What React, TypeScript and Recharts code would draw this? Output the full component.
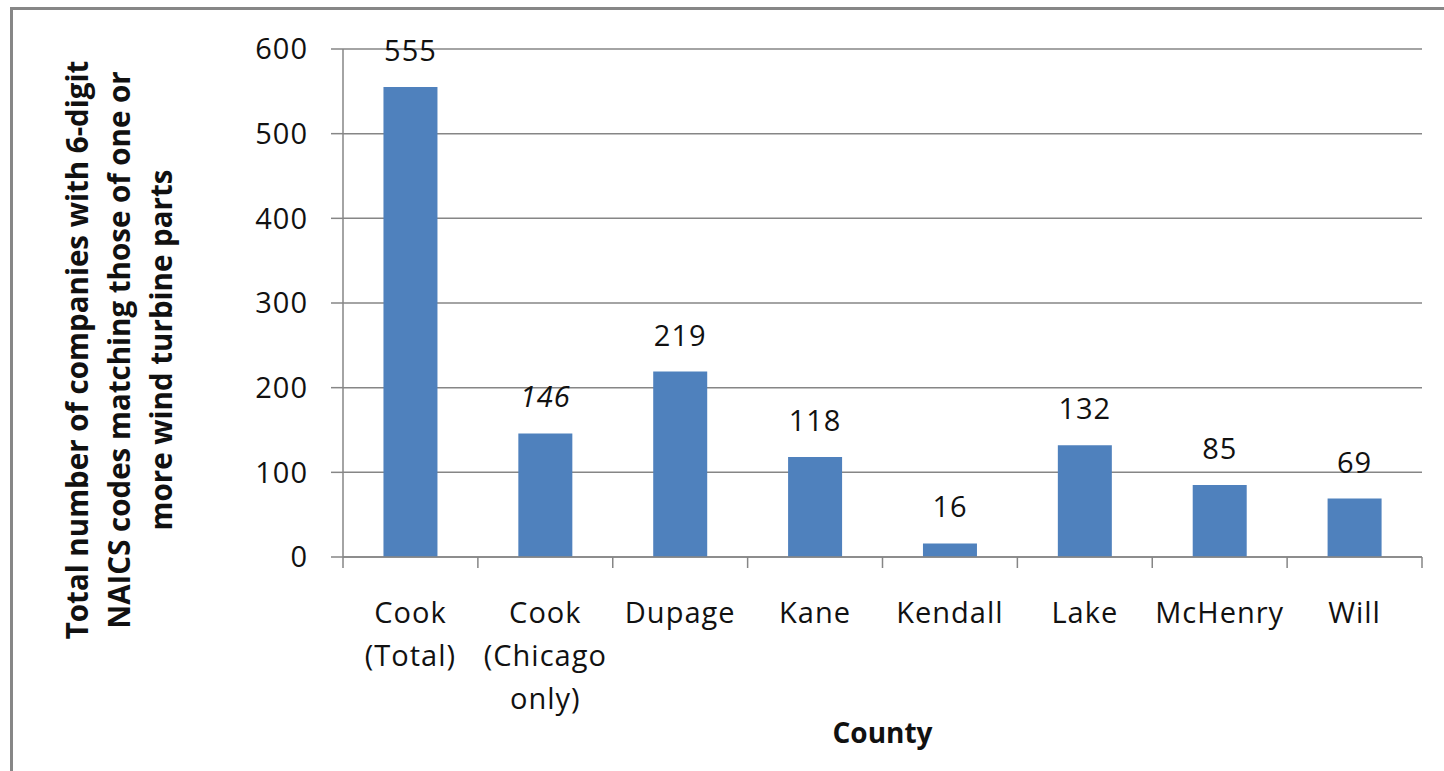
import { Bar, BarChart, CartesianGrid, LabelList, XAxis, YAxis } from "recharts";

const counties = [
  "Cook\n(Total)",
  "Cook\n(Chicago\nonly)",
  "Dupage",
  "Kane",
  "Kendall",
  "Lake",
  "McHenry",
  "Will",
];
const companyCounts = [555, 146, 219, 118, 16, 132, 85, 69];
const yTicks = [0, 100, 200, 300, 400, 500, 600];
const yTitleLines = [
  "Total number of companies with 6-digit",
  "NAICS codes matching those of one or",
  "more wind turbine parts",
];
const italicCounty = "Cook\n(Chicago\nonly)";

const chartData = counties.map((name, i) => ({ name, value: companyCounts[i] }));

const FONT = "'Open Sans', sans-serif";
const GRID = "#868686";
const TEXT = "#111";

function CountyTick(props: any) {
  const { x, y, payload, index, visibleTicksCount, width } = props;
  const band = width / visibleTicksCount;
  const lines = String(payload.value).split("\n");
  return (
    <g>
      <line x1={x - band / 2} x2={x - band / 2} y1={y} y2={y + 11} stroke={GRID} strokeWidth={1.5} />
      {index === visibleTicksCount - 1 && (
        <line x1={x + band / 2} x2={x + band / 2} y1={y} y2={y + 11} stroke={GRID} strokeWidth={1.5} />
      )}
      <text
        x={x}
        y={y + 66}
        textAnchor="middle"
        fontFamily={FONT}
        fontSize={29}
        letterSpacing={1}
        fill={TEXT}
      >
        {lines.map((l, i) => (
          <tspan key={i} x={x} dy={i === 0 ? 0 : 43}>
            {l}
          </tspan>
        ))}
      </text>
    </g>
  );
}

function ValueLabel(props: any) {
  const { x, y, width, value, index } = props;
  const italic = counties[index] === italicCounty;
  return (
    <text
      x={x + width / 2}
      y={y - 26}
      textAnchor="middle"
      fontFamily={FONT}
      fontSize={29}
      letterSpacing={1}
      fontStyle={italic ? "italic" : "normal"}
      fill={TEXT}
    >
      {value}
    </text>
  );
}

function YTitle() {
  const cx = 130;
  const cy = 350;
  return (
    <text
      x={cx}
      y={cy}
      transform={`rotate(-90, ${cx}, ${cy})`}
      textAnchor="middle"
      fontFamily={FONT}
      fontWeight="bold"
      fontSize={29.5}
      fill={TEXT}
    >
      {yTitleLines.map((l, i) => (
        <tspan key={i} x={cx} y={cy + (i - 1) * 42}>
          {l}
        </tspan>
      ))}
    </text>
  );
}

export default function App() {
  return (
    <div
      style={{
        position: "absolute",
        left: 0,
        top: 0,
        width: 1444,
        height: 771,
        overflow: "hidden",
        background: "#fff",
      }}
    >
      <div
        style={{
          position: "absolute",
          left: 10,
          top: 7,
          width: 1500,
          height: 800,
          border: "3px solid #878787",
        }}
      />
      <div style={{ position: "absolute", left: 0, top: 0 }}>
        <BarChart
          width={1444}
          height={771}
          data={chartData}
          margin={{ top: 49, right: 22, bottom: 8, left: 0 }}
          barCategoryGap="30%"
        >
          <CartesianGrid vertical={false} stroke={GRID} strokeWidth={1.5} />
          <XAxis
            dataKey="name"
            interval={0}
            height={206}
            tickLine={false}
            tickSize={0}
            tickMargin={0}
            axisLine={{ stroke: GRID, strokeWidth: 1.5 }}
            tick={<CountyTick />}
            label={{
              value: "County",
              position: "insideBottom",
              offset: 20,
              fontFamily: FONT,
              fontWeight: "bold",
              fontSize: 28,
              fill: TEXT,
            }}
          />
          <YAxis
            width={343}
            domain={[0, 600]}
            ticks={yTicks}
            tickSize={12}
            tickMargin={23}
            tickLine={{ stroke: GRID, strokeWidth: 1.5 }}
            axisLine={{ stroke: GRID, strokeWidth: 1.5 }}
            tick={{ fontFamily: FONT, fontSize: 29, letterSpacing: 1, fill: TEXT }}
            label={<YTitle />}
          />
          <Bar dataKey="value" fill="#4F81BD" isAnimationActive={false}>
            <LabelList dataKey="value" content={<ValueLabel />} />
          </Bar>
        </BarChart>
      </div>
    </div>
  );
}
